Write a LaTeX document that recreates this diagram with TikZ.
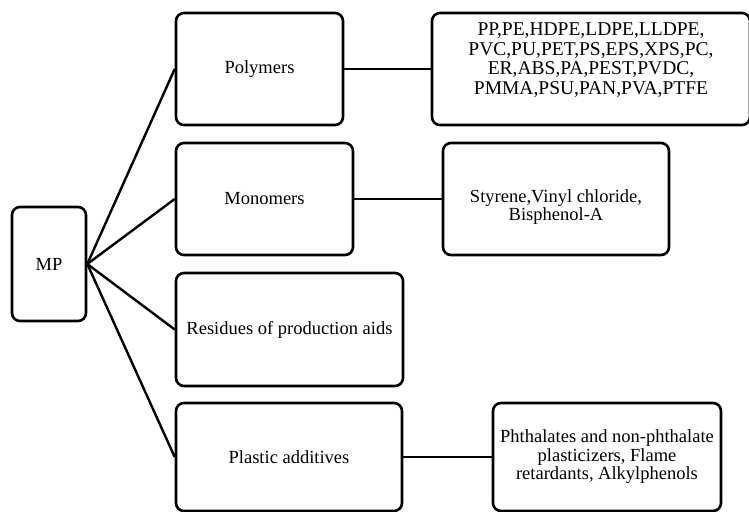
\documentclass[tikz,border=0pt]{standalone}
\usepackage{fontspec}
\setmainfont{Liberation Serif}
\usetikzlibrary{positioning}

% text block moved up (positive) or down (negative) inside its box
\newcommand{\liftedtext}[2]{\raisebox{0pt}[\dimexpr\height-#1\relax][\dimexpr\depth+#1\relax]{\begin{tabular}{@{}c@{}}#2\end{tabular}}}

\begin{document}
\begin{tikzpicture}[
  x=1pt, y=-1pt,
  font=\fontsize{18.5}{18.5}\selectfont,
  box/.style={rectangle, rounded corners=8pt, draw=black, line width=2.6pt,
              inner sep=3pt, fill=white, align=center},
  lst/.style={box, font=\fontsize{19.5}{19.5}\selectfont},
  link/.style={draw=black, line width=2.4pt}
]
\useasboundingbox (0,0) rectangle (749,511);

\node[box, minimum width=74pt,  minimum height=114pt] (mp)    at (49,264)    {MP};
\node[box, minimum width=167pt, minimum height=112pt] (poly)  at (259.5,69)  {Polymers};
\node[box, minimum width=177pt, minimum height=112pt] (mono)  at (264.5,199) {Monomers};
\node[box, minimum width=227pt, minimum height=113pt] (resid) at (289.5,329.5) {Residues of production aids};
\node[box, minimum width=226pt, minimum height=108pt] (addit) at (289,457)   {Plastic additives};

\node[lst, minimum width=318pt, minimum height=112pt] (polylist) at (591,69)
  {\liftedtext{8pt}{PP,PE,HDPE,LDPE,LLDPE,\\PVC,PU,PET,PS,EPS,XPS,PC,\\ER,ABS,PA,PEST,PVDC,\\PMMA,PSU,PAN,PVA,PTFE}};
\node[box, minimum width=226pt, minimum height=112pt] (monolist) at (556,199)
  {\liftedtext{-9pt}{Styrene,Vinyl chloride,\\Bisphenol-A}};
\node[box, minimum width=228pt, minimum height=108pt] (additlist) at (607,457)
  {Phthalates and non-phthalate\\plasticizers, Flame\\retardants, Alkylphenols};

\draw[link] (mp.east) -- (poly.west);
\draw[link] (mp.east) -- (mono.west);
\draw[link] (mp.east) -- (resid.west);
\draw[link] (mp.east) -- (addit.west);

\draw[link] (poly.east) -- (polylist.west);
\draw[link] (mono.east) -- (monolist.west);
\draw[link] (addit.east) -- (additlist.west);
\end{tikzpicture}
\end{document}
